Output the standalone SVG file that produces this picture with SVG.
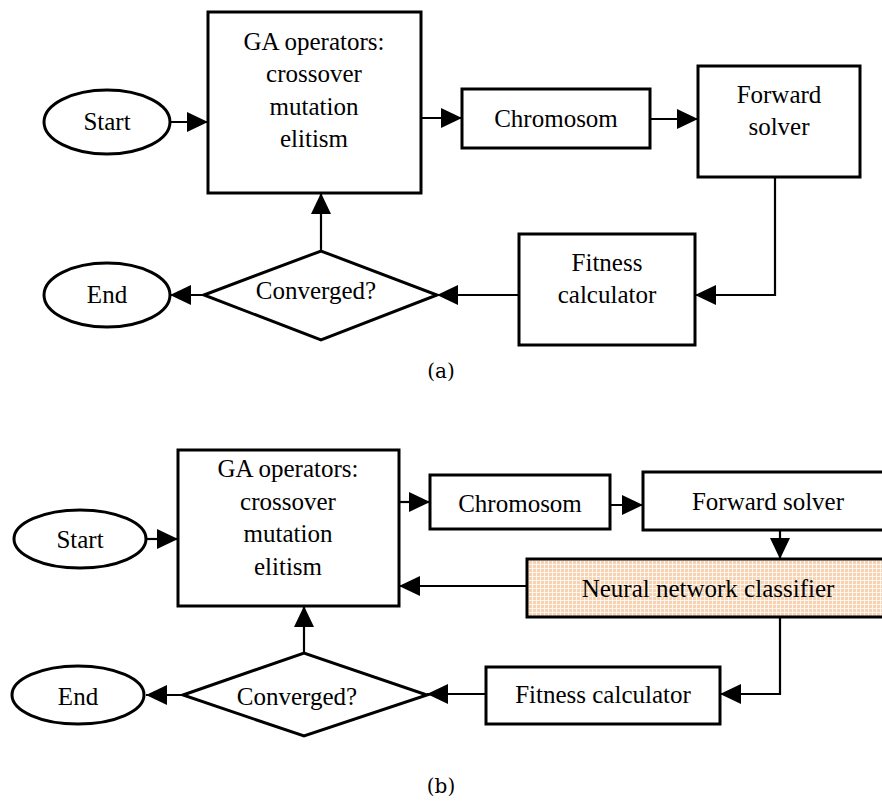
<svg xmlns="http://www.w3.org/2000/svg" width="882" height="803" viewBox="0 0 882 803">
  <style>
    .box { fill: #fff; stroke: #000; stroke-width: 3; }
    .nn { fill: url(#peach); stroke: #000; stroke-width: 3; }
    .lbl { font-family: "Liberation Serif", "Times New Roman", serif; font-size: 25px; text-anchor: middle; fill: #000; }
    .cap { font-family: "DejaVu Serif", "Liberation Serif", serif; font-size: 20px; text-anchor: middle; fill: #000; }
    .wire { fill: none; stroke: #000; stroke-width: 2.2; }
  </style>
  <defs>
    <marker id="arrow" viewBox="0 0 21 20" refX="21" refY="10" markerWidth="21" markerHeight="20" markerUnits="userSpaceOnUse" orient="auto">
      <path d="M0,0 L21,10 L0,20 Z" fill="#000"/>
    </marker>
    <pattern id="peach" width="4" height="4" patternUnits="userSpaceOnUse">
      <rect width="4" height="4" fill="#f8d3b3"/>
      <rect x="0" y="0" width="4" height="1" fill="#fff" opacity="0.75"/>
      <rect x="0" y="0" width="1" height="4" fill="#fff" opacity="0.75"/>
    </pattern>
  </defs>

  <!-- (a) plain GA loop -->
  <g id="a-start">
    <ellipse cx="107" cy="122" rx="63" ry="32" class="box"/>
    <text x="107" y="130" class="lbl">Start</text>
  </g>
  <g id="a-ga">
    <rect x="208" y="12" width="213" height="181" class="box"/>
    <text x="314" y="50" class="lbl">GA operators:</text>
    <text x="314" y="82" class="lbl">crossover</text>
    <text x="314" y="115" class="lbl">mutation</text>
    <text x="314" y="147" class="lbl">elitism</text>
  </g>
  <g id="a-chromosom">
    <rect x="462" y="89" width="188" height="59" class="box"/>
    <text x="556" y="127" class="lbl">Chromosom</text>
  </g>
  <g id="a-forward">
    <rect x="698" y="66" width="162" height="111" class="box"/>
    <text x="779" y="103" class="lbl">Forward</text>
    <text x="779" y="135" class="lbl">solver</text>
  </g>
  <g id="a-fitness">
    <rect x="519" y="234" width="176" height="111" class="box"/>
    <text x="607" y="271" class="lbl">Fitness</text>
    <text x="607" y="303" class="lbl">calculator</text>
  </g>
  <g id="a-converged">
    <polygon points="204,295 321,251 437,295 321,340" class="box"/>
    <text x="316" y="299" class="lbl">Converged?</text>
  </g>
  <g id="a-end">
    <ellipse cx="107" cy="295" rx="63" ry="32" class="box"/>
    <text x="107" y="303" class="lbl">End</text>
  </g>
  <g id="a-connectors">
    <line x1="170" y1="122" x2="208" y2="122" class="wire" marker-end="url(#arrow)"/>
    <line x1="421" y1="118" x2="462" y2="118" class="wire" marker-end="url(#arrow)"/>
    <line x1="650" y1="119" x2="698" y2="119" class="wire" marker-end="url(#arrow)"/>
    <polyline points="775,177 775,295 695,295" class="wire" marker-end="url(#arrow)"/>
    <line x1="519" y1="295" x2="437" y2="295" class="wire" marker-end="url(#arrow)"/>
    <line x1="204" y1="295" x2="170" y2="295" class="wire" marker-end="url(#arrow)"/>
    <line x1="321" y1="251" x2="321" y2="193" class="wire" marker-end="url(#arrow)"/>
  </g>
  <text x="441" y="378" class="cap">(a)</text>

  <!-- (b) GA loop with classifier -->
  <g id="b-start">
    <ellipse cx="80" cy="539" rx="66" ry="29" class="box"/>
    <text x="80" y="548" class="lbl">Start</text>
  </g>
  <g id="b-ga">
    <rect x="178" y="450" width="221" height="156" class="box"/>
    <text x="288" y="477" class="lbl">GA operators:</text>
    <text x="288" y="510" class="lbl">crossover</text>
    <text x="288" y="542" class="lbl">mutation</text>
    <text x="288" y="575" class="lbl">elitism</text>
  </g>
  <g id="b-chromosom">
    <rect x="430" y="475" width="180" height="54" class="box"/>
    <text x="520" y="512" class="lbl">Chromosom</text>
  </g>
  <g id="b-forward">
    <rect x="643" y="472" width="260" height="58" class="box"/>
    <text x="768" y="510" class="lbl">Forward solver</text>
  </g>
  <g id="b-classifier">
    <rect x="527" y="559" width="370" height="58" class="nn"/>
    <text x="708" y="597" class="lbl">Neural network classifier</text>
  </g>
  <g id="b-fitness">
    <rect x="486" y="667" width="234" height="57" class="box"/>
    <text x="603" y="703" class="lbl">Fitness calculator</text>
  </g>
  <g id="b-converged">
    <polygon points="183,695 304,653 427,695 304,736" class="box"/>
    <text x="297" y="705" class="lbl">Converged?</text>
  </g>
  <g id="b-end">
    <ellipse cx="78" cy="695" rx="66" ry="29" class="box"/>
    <text x="78" y="705" class="lbl">End</text>
  </g>
  <g id="b-connectors">
    <line x1="146" y1="539" x2="178" y2="539" class="wire" marker-end="url(#arrow)"/>
    <line x1="399" y1="502" x2="430" y2="502" class="wire" marker-end="url(#arrow)"/>
    <line x1="610" y1="505" x2="643" y2="505" class="wire" marker-end="url(#arrow)"/>
    <line x1="780" y1="530" x2="780" y2="559" class="wire" marker-end="url(#arrow)"/>
    <line x1="527" y1="586" x2="399" y2="586" class="wire" marker-end="url(#arrow)"/>
    <polyline points="780,617 780,694 720,694" class="wire" marker-end="url(#arrow)"/>
    <line x1="486" y1="694" x2="427" y2="694" class="wire" marker-end="url(#arrow)"/>
    <line x1="183" y1="695" x2="146" y2="695" class="wire" marker-end="url(#arrow)"/>
    <line x1="304" y1="653" x2="304" y2="606" class="wire" marker-end="url(#arrow)"/>
  </g>
  <text x="441" y="793" class="cap">(b)</text>
</svg>
